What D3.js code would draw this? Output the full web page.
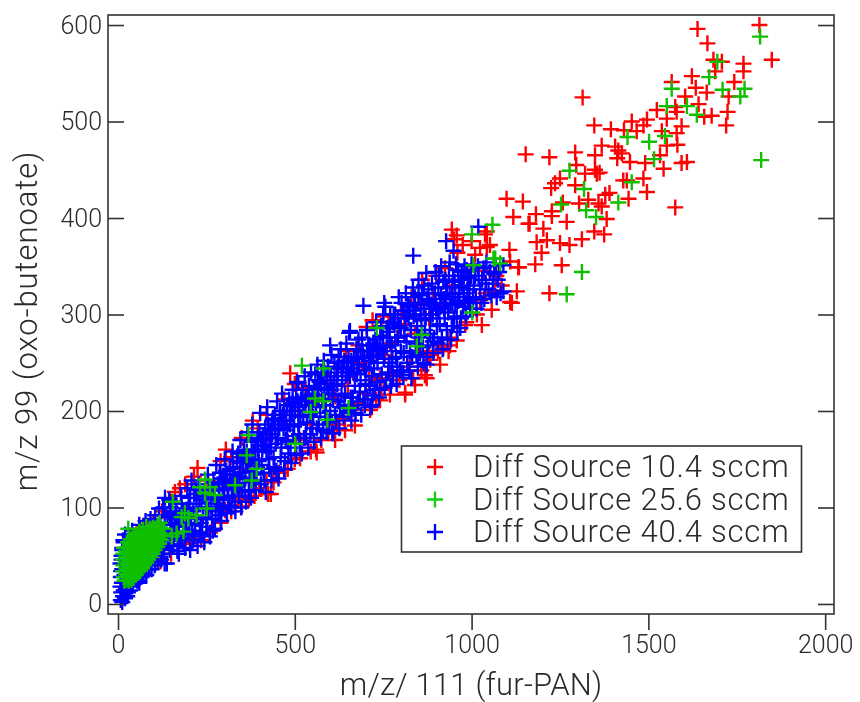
<!DOCTYPE html>
<html>
<head>
<meta charset="utf-8">
<script src="https://cdn.jsdelivr.net/npm/d3@7"></script>
<style>
  html, body { margin: 0; padding: 0; background: #fff; }
  svg { filter: blur(0.35px); }
  text { font-family: Roboto, "Liberation Sans", sans-serif; font-weight: 300; fill: #2a2a2a; }
</style>
</head>
<body>
<div id="chart"></div>
<script>
const xTicks = [0, 500, 1000, 1500, 2000];
const yTicks = [0, 100, 200, 300, 400, 500, 600];
const legendLabels = ["Diff Source 10.4 sccm", "Diff Source 25.6 sccm", "Diff Source 40.4 sccm"];
const xTitle = "m/z/ 111 (fur-PAN)";
const yTitle = "m/z 99 (oxo-butenoate)";

// values, [m/z 111, m/z 99]
const red104 = [
  [1639,596],[1667,581],[1814,600],[1849,564],[1684,564],[1708,562],[1769,560],[1769,552],[1689,552],[1623,547],
  [1566,541],[1743,541],[1634,535],[1665,530],[1727,526],[1314,525],[1604,526],[1642,518],[1524,512],[1576,515],
  [1580,510],[1724,510],[1453,500],[1496,502],[1486,496],[1552,503],[1679,506],[1658,505],[1347,496],[1720,496],
  [1394,492],[1431,491],[1467,490],[1594,495],[1538,490],[1580,488],[1368,475],[1406,474],[1415,470],[1425,467],
  [1412,462],[1349,465],[1293,468],[1153,466],[1220,463],[1552,475],[1582,476],[1533,465],[1448,458],[1491,457],
  [1594,457],[1609,458],[1543,451],[1296,455],[1250,441],[1236,436],[1225,431],[1321,446],[1354,446],[1362,447],
  [1349,450],[1429,439],[1439,439],[1486,441],[1293,434],[1390,426],[1378,424],[1496,427],[1444,420],[1099,420],
  [1145,417],[1258,416],[1304,415],[1330,419],[1359,415],[1368,412],[1118,401],[1182,404],[1227,407],[1227,402],
  [1269,396],[1164,394],[1203,389],[1382,399],[1375,383],[1347,386],[1312,378],[1250,374],[1277,372],[1184,375],
  [1213,377],[1198,364],[1576,411],[1107,367],[1109,355],[1134,349],[1180,352],[1255,351],[1220,322],[1128,324],
  [1114,312],[1043,370],[1038,383],[1161,394],[1052,372],[1024,369],[1132,349],[1109,313],[1057,305],[1029,289],
  [944,388],[958,382],[1043,386],[958,273],[920,265],[911,248],[873,234],[835,234],[812,217],[741,234],
  [703,287],[750,298],[718,204],[487,239],[562,157],[515,151],[432,114],[386,112],[350,101],[381,190],
  [305,160],[225,141],[175,120],[161,116],[72,81],[62,78],[32,71],[204,63],
  [950,378],[975,372],[1000,376],[1010,362],[1070,340],[1085,330],[1040,322],[1015,300],[985,292],[940,276],
  [935,262],[905,262],[880,258],[858,242],[850,262],[825,246],[796,232],[770,238],[745,222],[730,212],
  [700,218],[680,208],[660,206],[640,192],[620,186],[595,180],[575,170],[545,158],[530,172],[500,150],
  [480,140],[455,136],[440,126],[420,128],[400,120],[370,108],[340,108],[320,96],[290,84],[260,74],
  [235,66],[210,68],[190,62],[150,52],[120,44],
  [100,84],[125,96],[150,106],[190,124],[215,132],[255,128],[290,148],[320,152],[350,172],[395,182],
  [420,196],[470,212],[500,228],[530,224],[580,238],[625,250],[645,262],[680,268],[720,294],[765,292],
  [800,304],[830,318],[860,336],[900,340],[925,348],[960,364],
  [300,120],[345,140],[380,150],[425,176],[470,190],[510,200],[560,210],[600,232],[650,226],[690,250],
  [730,262],[770,270],[810,290],[850,312],[890,322],[945,330],[990,340],[1035,345],[1065,325],
  [545,186],[585,206],[615,215],[665,240],[710,232],[755,258],[790,276],[840,280],[880,296],[915,310],
  [424,114],[345,111],[741,211],[812,219],[868,237],[911,268],[939,268],[515,170],[560,160],[670,185],
  [614,170],[642,180],[713,201],[769,217],[840,227],[883,253],[982,289],[1024,315],[472,139],[388,128],[303,97]
];

const green256 = [
  [1816,588],[1695,562],[1672,546],[1566,534],[1710,533],[1772,534],[1760,526],[1552,516],[1609,516],[1637,507],
  [1441,484],[1502,479],[1547,485],[1516,461],[1819,460],[1277,449],[1453,437],[1318,430],[1253,414],[1415,416],
  [1324,408],[1352,401],[1059,393],[1062,358],[1081,353],[1312,344],[1269,321],[1001,383],[1005,351],[1067,358],
  [1002,302],[732,286],[859,279],[845,267],[520,247],[581,244],[557,213],[581,210],[545,199],[592,191],
  [652,203],[501,166],[392,140],[369,175],[364,154],[331,123],[378,128],[246,129],[232,121],[260,121],
  [246,115],[274,113],[155,106],[251,99],[189,94],[180,90],[222,92],[199,89],[166,73],[185,75],
  [152,70],[90,78],[29,78],
  [22,31],[23,37],[21,43],[22,49],[23,55],[28,29],[27,35],[29,41],[28,47],[27,53],[28,59],
  [34,28],[33,34],[35,40],[34,46],[33,52],[35,58],[34,62],[40,30],[39,36],[41,42],[40,48],[39,54],[41,60],[40,64],
  [46,32],[45,38],[47,44],[46,50],[45,56],[47,62],[46,66],[52,34],[51,40],[53,46],[52,52],[51,58],[53,64],[52,67],
  [58,36],[57,42],[59,48],[58,54],[57,60],[59,66],[58,69],[64,39],[63,45],[65,51],[64,57],[63,63],[65,69],
  [70,41],[69,47],[71,53],[70,59],[69,65],[71,71],[76,44],[75,50],[77,56],[76,62],[75,68],[77,73],
  [82,47],[81,53],[83,59],[82,65],[81,71],[83,74],[88,50],[87,56],[89,62],[88,68],[87,74],
  [94,53],[93,59],[95,65],[94,71],[93,77],[100,56],[99,62],[101,68],[100,74],[99,79],
  [106,60],[105,66],[107,72],[106,78],[112,63],[111,69],[113,75],[112,81],[118,67],[117,73],[119,79],[118,84],
  [14,34],[15,40],[14,46],[15,52],[16,58],[16,28],[18,24],[24,25],[30,24],[38,25],[44,27],[50,30],[56,33],[62,35],
  [68,37],[74,40],[80,43],[86,46],[92,49],[98,52],[104,56],[110,59],[116,62],[122,66],[126,72],[130,78],
  [28,64],[36,67],[44,70],[52,72],[60,75],[70,77],[80,80]
];

const blue404 = [
  [8,4],[12,2],[14,8],[9,12],[7,18],[16,14],[20,6],[11,22],[8,28],[22,16],[28,12],[34,14],[36,22],[42,20],[48,26],
  [54,24],[60,30],[66,28],[9,34],[7,42],[10,50],[12,58],[15,66],[20,72],[72,32],[80,30],[88,36],[95,36],[104,40],[112,44],
  [122,46],[132,42],[138,42],[128,52],[146,56],[156,60],[168,55],[172,52],
  [40,76],[60,82],[78,86],[92,88],[105,92],[116,99],[133,110],[128,100],[145,108],[150,100],
  [155,62],[160,75],[162,90],[165,104],[170,60],[172,80],[178,112],[182,68],[185,96],[190,58],[192,84],[196,120],[198,72],[200,104],
  [204,56],[206,92],[208,128],[212,66],[215,114],[218,82],[222,100],[225,60],[228,124],[232,74],[236,108],[240,90],[244,64],[246,118],[250,80],
  [254,134],[256,98],[260,70],[262,112],[266,88],[270,126],[274,78],[278,144],[280,104],[284,92],[288,136],[292,86],[296,118],[298,100],
  [302,150],[304,128],[308,94],[312,110],[316,140],[320,100],[324,158],[328,120],[332,96],[336,148],[338,130],[342,112],[346,170],[348,100],
  [352,136],[356,160],[358,118],[362,106],[366,178],[368,146],[372,126],[376,110],[380,186],[384,158],[386,136],[390,118],[394,170],[398,148],
  [402,198],[404,124],[408,160],[412,136],[416,182],[418,116],[422,204],[426,150],[430,172],[434,128],[438,192],[442,142],[446,166],[450,210],
  [454,130],[456,182],[460,152],[464,218],[466,196],[470,140],[474,170],[478,206],[482,156],[486,186],[490,146],[494,222],[496,174],[500,200],
  [504,154],[506,230],[510,186],[514,166],[518,212],[520,156],[524,196],[528,236],[532,176],[536,216],[538,162],[542,196],[546,240],[550,182],
  [554,168],[556,222],[560,204],[564,248],[568,186],[570,230],[574,172],[578,212],[582,252],[586,194],[590,178],[592,236],[596,218],[600,200],
  [604,258],[606,177],[610,226],[614,196],[618,244],[622,210],[626,182],[630,264],[634,232],[638,194],[642,218],[646,270],[648,250],[650,200],
  [654,281],[656,236],[660,190],[664,214],[668,256],[672,198],[676,238],[680,274],[684,220],[688,196],[692,262],[696,246],[698,206],[700,228],
  [704,284],[706,212],[710,252],[714,204],[718,236],[722,270],[726,222],[730,292],[734,250],[738,214],[742,278],[746,238],[748,262],[750,300],
  [754,224],[756,308],[760,266],[764,240],[768,286],[772,226],[776,254],[780,300],[784,272],[788,228],[790,246],[794,318],[796,288],[800,262],
  [804,240],[806,304],[810,278],[814,322],[818,250],[822,296],[826,262],[830,234],[834,328],[838,312],[842,270],[846,288],[848,246],[850,336],
  [854,260],[856,300],[860,322],[864,250],[868,284],[872,343],[876,268],[880,314],[884,296],[888,332],[892,260],[894,276],[898,344],[900,306],
  [904,270],[906,328],[910,290],[914,350],[918,264],[922,316],[926,336],[930,284],[934,302],[938,354],[942,274],[946,322],[948,340],[950,296],
  [954,310],[956,352],[960,282],[964,330],[968,286],[972,344],[976,308],[980,350],[984,298],[988,326],[992,338],[996,306],[1000,352],
  [1004,316],[1010,340],[1014,306],[1018,350],[1024,326],[1030,336],[1036,316],[1042,354],[1048,326],[1052,344],[1060,332],[1068,350],[1074,336],[1082,322],[1090,351],
  [1090,324],[1071,318],[835,361],[694,309],[753,312],[1019,391],[928,376],[949,366],[600,268],[656,283],
  [873,248],[807,237],[774,246],[718,206],[652,198],[609,177],[510,229],
  [152,84],[158,68],[164,96],[168,72],[174,92],[176,66],[180,104],[184,82],[188,74],[194,98],[202,82],[204,110],[210,76],[213,96],[216,70],
  [220,118],[224,88],[230,104],[234,84],[238,72],[242,112],[248,100],[252,88],[258,120],[264,100],[268,76],[272,110],[276,96],[282,124],[286,108],
  [290,98],[294,130],[300,112],[306,138],[310,120],[314,102],[318,126],[322,112],[326,142],[330,106],[334,124],[340,156],[344,132],[350,118],[354,148],
  [360,130],[364,158],[370,116],[374,138],[378,168],[382,126],[388,148],[392,134],[396,160],[400,178],[406,144],[410,172],[414,128],[420,158],[424,186],
  [428,140],[432,162],[436,176],[440,152],[444,196],[448,138],[452,172],[458,200],[462,162],[468,182],[472,148],[476,190],[480,168],[484,212],[488,162],
  [492,196],[498,184],[502,166],[508,210],[512,176],[516,194],[522,222],[526,172],[530,206],[534,188],[540,226],[544,176],[548,208],[552,194],[558,238],
  [562,182],[566,216],[572,198],[576,240],[580,180],[584,222],[588,206],[594,246],[598,188],[602,236],[608,212],[612,250],[616,190],[620,228],[624,256],
  [628,204],[632,216],[636,246],[640,206],[644,236],[652,256],[658,214],[662,244],[666,202],[670,226],[674,264],[678,210],[682,248],[686,232],[690,276],
  [694,212],[702,242],[708,268],[712,226],[716,256],[720,216],[724,244],[728,274],[732,230],[736,264],[740,222],[744,288],[752,254],[758,232],[762,282],
  [766,250],[770,300],[774,268],[778,236],[782,290],[786,256],[792,276],[798,242],[802,312],[808,260],[812,296],[816,272],[820,310],[824,242],[828,284],
  [832,256],[836,298],[840,318],[844,258],[852,276],[858,310],[862,266],[866,330],[870,296],[874,256],[878,326],[882,280],[886,310],[890,272],[896,322],
  [902,288],[908,340],[912,308],[916,276],[920,334],[924,296],[928,318],[932,274],[936,340],[940,310],[944,288],[952,334],[958,298],[962,346],[966,318],
  [970,296],[974,328],[978,340],[982,312],[986,346],[990,314],[994,326],[998,340],[1006,330],[1012,318],[1020,340],[1028,312],[1034,348],[1040,332],[1056,320],
  [1064,342],[1078,344],
  [40,18],[50,30],[60,22],[70,40],[76,36],[84,44],[92,46],[100,50],[108,54],[116,58],[124,62],[130,58],[136,72],[142,66],[148,82],
  [154,76],[160,88],[166,84],[110,72],[120,84],[132,92],[140,90],[148,94],[100,68],[90,64],[26,8],[18,30],[12,36],[10,46],[12,56],
  [16,64],[30,20],[24,14],
  [265,118],[272,118],[286,118],[300,126],[308,128],[318,134],[330,134],[336,122],[346,146],[352,152],[362,148],[370,150],[378,150],[388,160],[396,172],
  [404,170],[414,164],[420,172],[430,180],[436,190],[444,182],[452,186],[462,190],[470,200],[478,180],[486,200],[494,208],[504,214],[512,204],[520,212],
  [532,214],[540,206],[550,218],[558,224],[566,232],[574,228],[584,236],[592,224],[604,222],[612,232],[622,240],[632,244],[640,252],[650,240],[660,252],
  [668,240],[678,254],[686,262],[696,256],[704,262],[714,268],[722,258],[732,266],[742,262],[750,276],[760,286],[768,276],[776,292],[784,300],[792,296],
  [800,286],[810,304],[818,300],[826,308],[834,304],[842,300],[850,320],[858,294],[866,306],[874,316],[882,306],[890,300],[898,312],[906,304],[914,320],
  [922,306],[930,328],[938,322],[946,312],[954,322],[962,314],[970,336],[978,322]
];

const width = 860, height = 702;
const margin = { left: 108, right: 834, top: 15, bottom: 614 };
const TICK_LEN = 16;
const PLUS = "M-8,0H8M0,-8V8";

const x = d3.scaleLinear().domain([-28.3, 2025]).range([margin.left, margin.right]);
const y = d3.scaleLinear().domain([-10.4, 610.4]).range([margin.bottom, margin.top]);

const svg = d3.select("#chart").append("svg")
  .attr("width", width)
  .attr("height", height)
  .attr("viewBox", `0 0 ${width} ${height}`)
  .style("display", "block");

// Markers: red first, then blue, green stays on top
const seriesDraw = [
  { data: red104, color: "#ff0000" },
  { data: blue404, color: "#0000ff" },
  { data: green256, color: "#10c000" }
];
seriesDraw.forEach(s => {
  svg.append("g")
    .selectAll("path")
    .data(s.data)
    .enter()
    .append("path")
    .attr("d", PLUS)
    .attr("transform", d => `translate(${x(d[0])},${y(d[1])})`)
    .attr("fill", "none")
    .attr("stroke", s.color)
    .attr("stroke-width", 2.4);
});

// Axes
const bottomAxis = d3.axisBottom(x).tickValues(xTicks).tickFormat(d3.format("d")).tickSize(TICK_LEN).tickPadding(5).tickSizeOuter(0);
const leftAxis = d3.axisLeft(y).tickValues(yTicks).tickSize(-TICK_LEN).tickPadding(6).tickSizeOuter(0);
const rightAxis = d3.axisRight(y).tickValues(yTicks).tickSize(-TICK_LEN).tickFormat("").tickSizeOuter(0);

const gx = svg.append("g").attr("transform", `translate(0,${margin.bottom})`).call(bottomAxis);
const gy = svg.append("g").attr("transform", `translate(${margin.left},0)`).call(leftAxis);
const gr = svg.append("g").attr("transform", `translate(${margin.right},0)`).call(rightAxis);

[gx, gy, gr].forEach(g => {
  g.select(".domain").remove();
  g.selectAll("line").attr("stroke", "#333").attr("stroke-width", 1.6);
  g.selectAll("text").attr("font-size", 25);
  g.attr("font-family", null);
});

svg.append("rect")
  .attr("x", margin.left)
  .attr("y", margin.top)
  .attr("width", margin.right - margin.left)
  .attr("height", margin.bottom - margin.top)
  .attr("fill", "none")
  .attr("stroke", "#333")
  .attr("stroke-width", 1.6);

// Axis titles
svg.append("text")
  .attr("x", 471)
  .attr("y", 695)
  .attr("text-anchor", "middle")
  .attr("font-size", 31)
  .style("letter-spacing", "0.2px")
  .text(xTitle);

svg.append("text")
  .attr("transform", "translate(37,321) rotate(-90)")
  .attr("text-anchor", "middle")
  .attr("font-size", 31)
  .style("letter-spacing", "0.95px")
  .text(yTitle);

// Legend
const legendColors = ["#ff0000", "#12cf12", "#0000ff"];
const legendY = d3.scalePoint().domain(legendLabels).range([467, 532]);

svg.append("rect")
  .attr("x", 401.5)
  .attr("y", 446)
  .attr("width", 400)
  .attr("height", 106)
  .attr("fill", "#fff")
  .attr("stroke", "#333")
  .attr("stroke-width", 1.6);

const legendRows = svg.append("g")
  .selectAll("g")
  .data(legendLabels)
  .enter()
  .append("g")
  .attr("transform", d => `translate(0,${legendY(d)})`);

legendRows.append("path")
  .attr("d", PLUS)
  .attr("transform", "translate(435,0)")
  .attr("fill", "none")
  .attr("stroke", (d, i) => legendColors[i])
  .attr("stroke-width", 2.4);

legendRows.append("text")
  .attr("x", 473)
  .attr("y", 10)
  .attr("font-size", 31)
  .style("letter-spacing", "0.8px")
  .text(d => d);
</script>
</body>
</html>
